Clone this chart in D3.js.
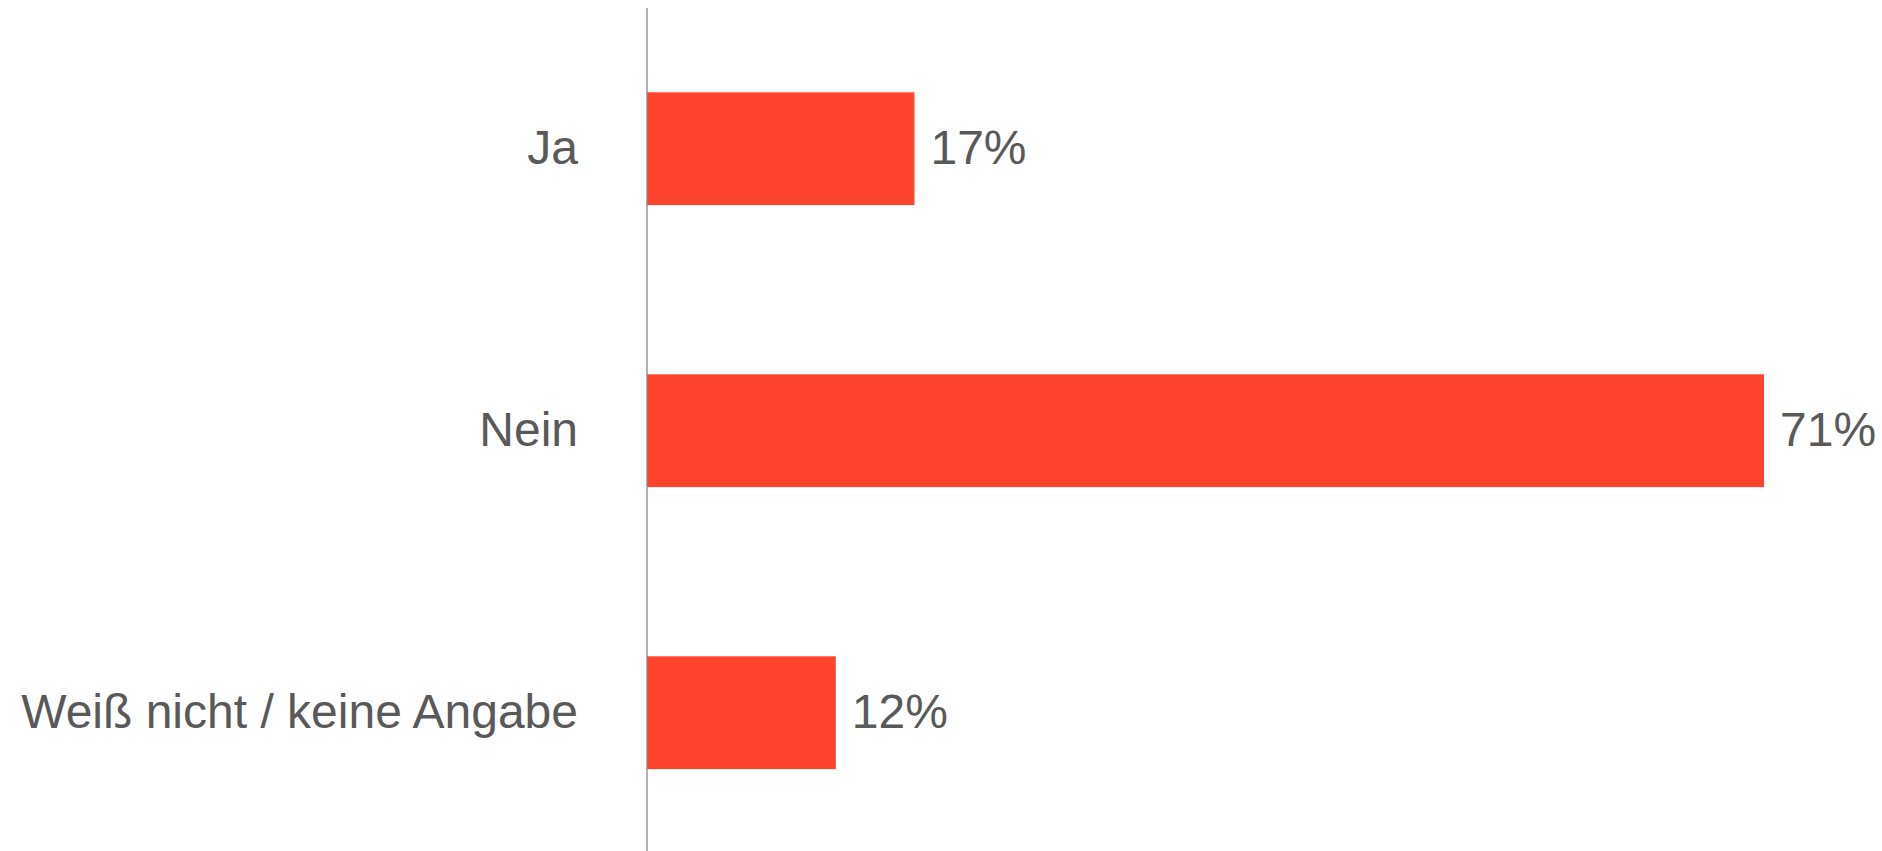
<html>
    <head>
        <script src="https://d3js.org/d3.v7.min.js"></script>
        <style>
            body {
                margin: 0;
                background: #fff;
            }

            text {
                font-family: "Liberation Sans", Arial, sans-serif;
                font-size: 48px;
                fill: #595959;
            }

            .bar {
                fill: #ff442e;
            }

            .axis-line {
                stroke: #858585;
                stroke-width: 1.3px;
            }
        </style>
    </head>
    <body>
        <script>
            // answers and their shares in percent
            var categories = ["Ja", "Nein", "Weiß nicht / keine Angabe"];
            var values = [17, 71, 12];

            var data = categories.map(function(c, i) {
                return {category: c, value: values[i]};
            });

            var width = 1882,
                height = 851,
                x0 = 647;

            var x = d3.scaleLinear()
                .domain([0, 71])
                .range([x0, 1764]);

            var y = d3.scaleBand()
                .domain(categories)
                .range([7.7, 853.7])
                .paddingInner(0.6)
                .paddingOuter(0.3);

            var svg = d3.select("body").append("svg")
                .attr("width", width)
                .attr("height", height);

            svg.selectAll(".bar")
                .data(data)
                .enter().append("rect")
                    .attr("class", "bar")
                    .attr("x", x(0))
                    .attr("y", function(d) { return y(d.category); })
                    .attr("width", function(d) { return x(d.value) - x(0); })
                    .attr("height", y.bandwidth());

            // the vertical axis, category labels on the left
            svg.append("line")
                .attr("class", "axis-line")
                .attr("x1", x0).attr("x2", x0)
                .attr("y1", 8).attr("y2", height);

            svg.selectAll(".cat")
                .data(data)
                .enter().append("text")
                    .attr("class", "cat")
                    .attr("x", x0 - 69)
                    .attr("y", function(d) { return y(d.category) + y.bandwidth() / 2; })
                    .attr("dy", "0.31em")
                    .attr("text-anchor", "end")
                    .text(function(d) { return d.category; });

            svg.selectAll(".val")
                .data(data)
                .enter().append("text")
                    .attr("class", "val")
                    .attr("x", function(d) { return x(d.value) + 16; })
                    .attr("y", function(d) { return y(d.category) + y.bandwidth() / 2; })
                    .attr("dy", "0.31em")
                    .text(function(d) { return d.value + "%"; });
        </script>
    </body>
</html>
